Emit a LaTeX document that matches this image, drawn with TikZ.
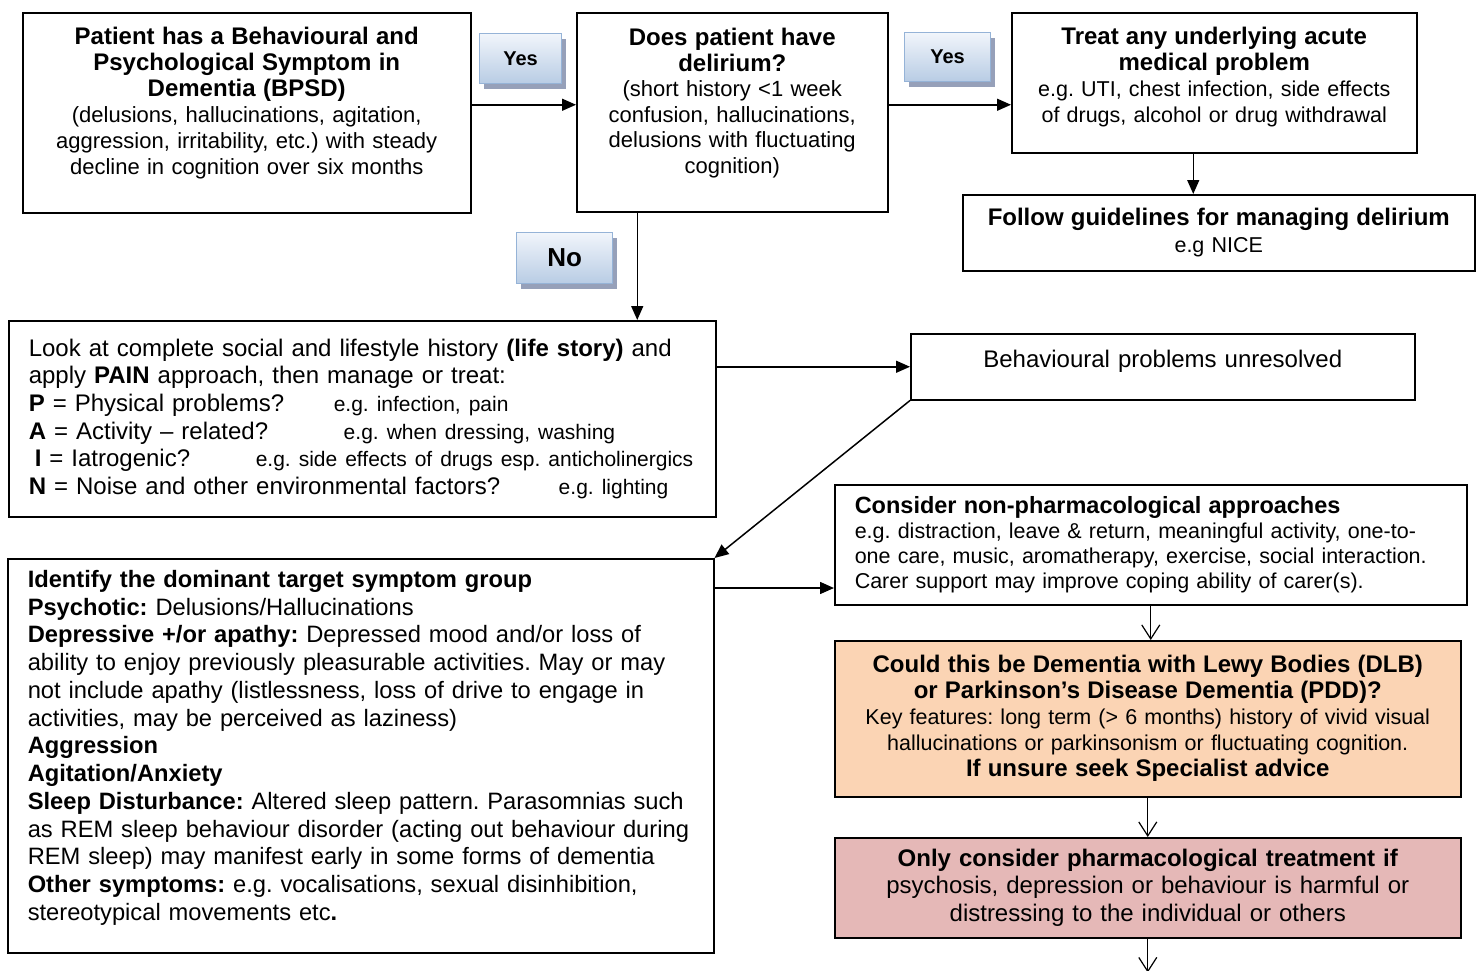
\documentclass[tikz,border=0pt]{standalone}
\usepackage{fontspec}
\setmainfont{Liberation Sans}
\usepackage{tikz}
\usetikzlibrary{
  arrows.meta,
  positioning,
  calc,
  shadows
}
\frenchspacing
\hyphenpenalty=10000
\exhyphenpenalty=10000
\definecolor{btnblue}{RGB}{149,179,215}
\definecolor{btntop}{RGB}{241,245,251}
\definecolor{btnbottom}{RGB}{184,204,228}
\definecolor{btnshadow}{RGB}{150,160,185}
\definecolor{dlborange}{RGB}{251,212,180}
\definecolor{drugpink}{RGB}{229,184,183}
\newcommand{\headsize}{\fontsize{24}{26}\selectfont}
\newcommand{\egsize}{\fontsize{21}{26}\selectfont}
\newcommand{\lift}[1]{\rule[-#1]{0pt}{1pt}}
\tikzset{
  flowbox/.style={
    draw,
    line width=1.5pt,
    anchor=north west,
    inner xsep=20pt,
    inner ysep=4pt
  },
  centrebox/.style={flowbox,align=center},
  leftbox/.style={flowbox,align=left},
  answer/.style={
    draw=btnblue,
    line width=1.2pt,
    top color=btntop,
    bottom color=btnbottom,
    general shadow={fill=btnshadow,shadow xshift=4pt,shadow yshift=-5pt},
    anchor=north west,
    inner sep=0pt,
    font=\bfseries\fontsize{20}{24}\selectfont
  },
  flowarrow/.style={-{Triangle[length=14pt,width=12pt]},line width=1.5pt},
  openarrow/.style={-{Straight Barb[length=14pt,width=18pt,line width=1.2pt]},line width=1.2pt},
}
\begin{document}
\begin{tikzpicture}[x=1pt,y=-1pt]
  \useasboundingbox (0,0) rectangle (1478,970);
  \node[centrebox,minimum width=448pt,minimum height=200pt,text width=408pt,font=\fontsize{22}{26}\selectfont] (bpsd) at (22,12) {
    \textbf{\headsize Patient has a Behavioural and}\\
    \textbf{\headsize Psychological Symptom in}\\
    \textbf{\headsize Dementia (BPSD)}\\
    (delusions, hallucinations, agitation,\\
    aggression, irritability, etc.) with steady\\
    decline in cognition over six months\lift{23pt}
  };
  \node[centrebox,minimum width=311pt,minimum height=199pt,text width=271pt,font=\fontsize{22}{25.5}\selectfont] (delir) at (576,12) {
    \textbf{\headsize Does patient have}\\
    \textbf{\headsize delirium?}\\
    (short history <1 week\\
    confusion, hallucinations,\\
    delusions with fluctuating\\
    cognition)\lift{23pt}
  };
  \node[centrebox,minimum width=405pt,minimum height=140pt,text width=365pt,font=\fontsize{21.5}{26}\selectfont] (treat) at (1011,12) {
    \textbf{\headsize Treat any underlying acute}\\
    \textbf{\headsize medical problem}\\
    e.g. UTI, chest infection, side effects\\
    of drugs, alcohol or drug withdrawal\lift{15pt}
  };
  \node[centrebox,minimum width=512pt,minimum height=76pt,text width=472pt,font=\fontsize{21.5}{27}\selectfont] (guide) at (962,194) {
    \textbf{\headsize Follow guidelines for managing delirium}\\
    e.g NICE
  };
  \node[leftbox,minimum width=707pt,minimum height=196pt,text width=667pt,font=\fontsize{24}{27.6}\selectfont] (pain) at (8,320) {
    Look at complete social and lifestyle history \textbf{(life story)} and\\
    apply \textbf{PAIN} approach, then manage or treat:\\
    \makebox[305pt][l]{\textbf{P} = Physical problems?}{\egsize e.g. infection, pain}\\
    \makebox[315pt][l]{\textbf{A} = Activity -- related?}{\egsize e.g. when dressing, washing}\\
    \makebox[227pt][l]{\hspace*{6pt}\textbf{I} = Iatrogenic?}{\egsize e.g. side effects of drugs esp. anticholinergics}\\
    \makebox[530pt][l]{\textbf{N} = Noise and other environmental factors?}{\egsize e.g. lighting}
  };
  \node[centrebox,minimum width=504pt,minimum height=66pt,text width=464pt,font=\fontsize{24}{27}\selectfont] (unres) at (910,333) {
    Behavioural problems unresolved\lift{15pt}
  };
  \node[leftbox,minimum width=632pt,minimum height=120pt,text width=592pt,font=\fontsize{21.5}{25}\selectfont] (nonph) at (834,484) {
    \textbf{\fontsize{23.5}{25}\selectfont Consider non-pharmacological approaches}\\
    e.g. distraction, leave \& return, meaningful activity, one-to-\\
    one care, music, aromatherapy, exercise, social interaction.\\
    Carer support may improve coping ability of carer(s).
  };
  \node[leftbox,minimum width=706pt,minimum height=394pt,text width=666pt,font=\fontsize{23.7}{27.75}\selectfont] (ident) at (7,558) {
    \textbf{Identify the dominant target symptom group}\\
    \textbf{Psychotic:} Delusions/Hallucinations\\
    \textbf{Depressive +/or apathy:} Depressed mood and/or loss of\\
    ability to enjoy previously pleasurable activities. May or may\\
    not include apathy (listlessness, loss of drive to engage in\\
    activities, may be perceived as laziness)\\
    \textbf{Aggression}\\
    \textbf{Agitation/Anxiety}\\
    \textbf{Sleep Disturbance:} Altered sleep pattern. Parasomnias such\\
    as REM sleep behaviour disorder (acting out behaviour during\\
    REM sleep) may manifest early in some forms of dementia\\
    \textbf{Other symptoms:} e.g. vocalisations, sexual disinhibition,\\
    stereotypical movements etc\textbf{.}\lift{21pt}
  };
  \node[centrebox,fill=dlborange,minimum width=626pt,minimum height=156pt,text width=586pt,font=\fontsize{21.5}{26}\selectfont] (dlb) at (834,640) {
    \textbf{\headsize Could this be Dementia with Lewy Bodies (DLB)}\\
    \textbf{\headsize or Parkinson’s Disease Dementia (PDD)?}\\
    Key features: long term (> 6 months) history of vivid visual\\
    hallucinations or parkinsonism or fluctuating cognition.\\
    \textbf{\headsize If unsure seek Specialist advice}
  };
  \node[centrebox,fill=drugpink,minimum width=626pt,minimum height=100pt,text width=586pt,font=\fontsize{24}{27.5}\selectfont] (pharm) at (834,837) {
    \textbf{Only consider pharmacological treatment if}\\
    psychosis, depression or behaviour is harmful or\\
    distressing to the individual or others
  };
  \node[answer,minimum width=82pt,minimum height=50pt] (yesone) at (479,33) {Yes};
  \node[answer,minimum width=86pt,minimum height=49pt] (yestwo) at (904,32) {Yes};
  \node[answer,minimum width=96pt,minimum height=51pt,font=\bfseries\fontsize{26}{28}\selectfont] (noans) at (516,232) {No};
  \coordinate (yesrow) at ([yshift=8pt]bpsd.east);
  \coordinate (treatdrop) at ([xshift=-21pt]treat.south);
  \coordinate (nodrop) at ([xshift=-95pt]delir.south);
  \coordinate (identout) at ([yshift=-30pt]ident.north east);
  \coordinate (nextstep) at ([yshift=-34pt]pharm.south);
  \draw[flowarrow] (yesrow) -- (yesrow -| delir.west);
  \draw[flowarrow] (yesrow -| delir.east) -- (yesrow -| treat.west);
  \draw[flowarrow] (treatdrop) -- (treatdrop |- guide.north);
  \draw[flowarrow] (nodrop) -- (nodrop |- pain.north);
  \draw[flowarrow] (pain.east |- unres.west) -- (unres.west);
  \draw[flowarrow] (unres.south west) -- (ident.north east);
  \draw[flowarrow] (identout) -- (identout -| nonph.west);
  \draw[openarrow] (nonph.south) -- (nonph.south |- dlb.north);
  \draw[openarrow] (dlb.south) -- (pharm.north);
  \draw[openarrow] (pharm.south) -- (nextstep);
\end{tikzpicture}
\end{document}
